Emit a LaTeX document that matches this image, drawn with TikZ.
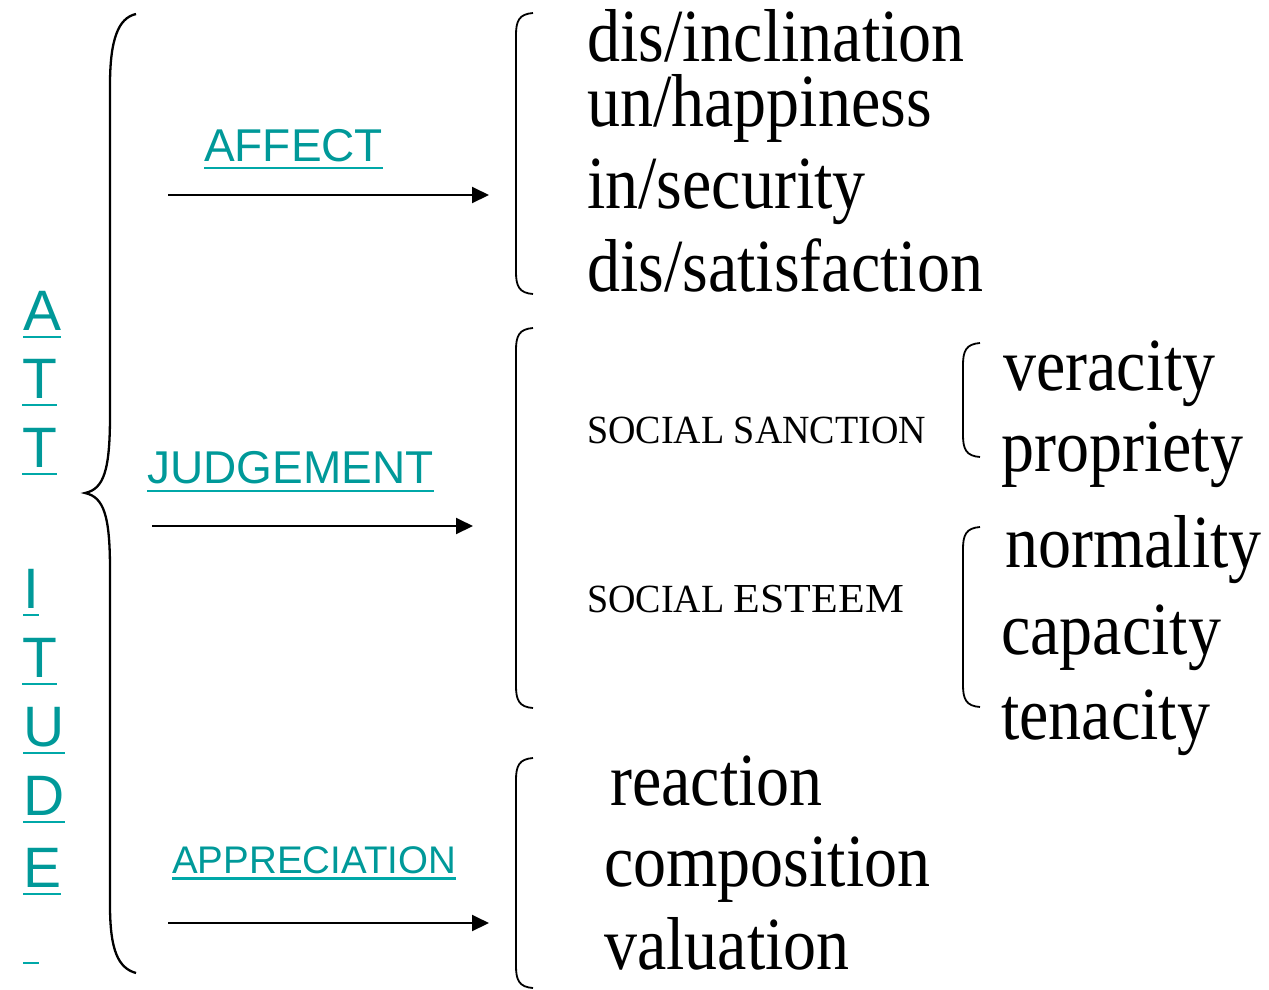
\documentclass[tikz,border=0pt]{standalone}
\usepackage{fontspec}
\usetikzlibrary{arrows.meta,calc}
\newfontfamily\tnr[FakeStretch=0.88]{Liberation Serif}
\newfontfamily\tnrs[FakeStretch=0.95]{Liberation Serif}
\newfontfamily\arial{Liberation Sans}
\definecolor{tealtxt}{RGB}{0,153,153}
\definecolor{tealline}{RGB}{0,168,168}
\tikzset{
  big/.style={anchor=base west,inner sep=0pt,font=\tnr\fontsize{75}{80}\selectfont},
  caps/.style={anchor=base west,inner sep=0pt,font=\tnrs\fontsize{40}{44}\selectfont},
  att/.style={anchor=base west,inner sep=0pt,text=tealtxt,font=\arial\fontsize{57}{60}\selectfont},
  lab/.style={anchor=base west,inner sep=0pt,text=tealtxt,font=\arial\fontsize{46}{50}\selectfont},
  labs/.style={anchor=base west,inner sep=0pt,text=tealtxt,font=\arial\fontsize{38.5}{42}\selectfont},
  uline/.style={draw=tealline,line width=2.4pt},
  brace/.style={draw=black,line width=2.3pt},
  sqbr/.style={draw=black,line width=1.8pt},
  arr/.style={draw=black,line width=2pt,-{Triangle[length=17pt,width=16pt]}}
}
\newcommand\ul[2][7]{\draw[uline] ($(#2.base west)+(0,#1)$) -- ($(#2.base east)+(0,#1)$);}
\newcommand\sqbrack[4]{% x, top, bottom, xend
  \draw[sqbr] (#4,#2) .. controls (#1+3,#2+1) and (#1,#2+8) .. (#1,#2+22)
     -- (#1,#3-22) .. controls (#1,#3-8) and (#1+3,#3-1) .. (#4,#3);}
\begin{document}
\begin{tikzpicture}[x=1pt,y=-1pt]
\useasboundingbox (0,0) rectangle (1269,989);
% ATTITUDE
\node[att] (a1) at (23,330) {A};
\node[att] (a2) at (22,398) {T};
\node[att] (a3) at (22,467) {T};
\node[att] (a4) at (23,608) {I};
\node[att] (a5) at (22,677) {T};
\node[att] (a6) at (23,746) {U};
\node[att] (a7) at (23,815) {D};
\node[att] (a8) at (23,887) {E};
\node[att] (a9) at (23,956) {\phantom{I}};
\foreach \n in {a1,a2,a3,a4,a5,a6,a7,a8,a9} {\ul{\n}}
% big brace
\draw[brace] (136,14) .. controls (118,18) and (110,40) .. (110,85)
  -- (110,415) .. controls (110,470) and (104,489) .. (85,493)
  .. controls (104,497) and (110,516) .. (110,570)
  -- (110,905) .. controls (110,950) and (118,968) .. (136,973);
% labels
\node[lab] (affect) at (204,161) {AFFECT};
\ul{affect}
\node[lab] (judg) at (147,483) {JUDGEMENT};
\ul[8]{judg}
\node[labs] (appr) at (172,873) {APPRECIATION};
\ul[5.5]{appr}
% arrows
\coordinate (afs) at (168,195); \coordinate (afe) at (489,195);
\coordinate (jus) at (152,526); \coordinate (jue) at (473,526);
\coordinate (aps) at (168,923); \coordinate (ape) at (489,923);
\draw[arr] (afs) -- (afe);
\draw[arr] (jus) -- (jue);
\draw[arr] (aps) -- (ape);
% brackets
\sqbrack{516}{13}{294}{533}
\sqbrack{516}{328}{708}{533}
\sqbrack{516}{758}{988}{533}
\sqbrack{963}{343}{457}{980}
\sqbrack{963}{527}{707}{980}
% affect items
\node[big] (t1) at (587,61) {dis/inclination};
\node[big] (t2) at (587,126) {un/happiness};
\node[big] (t3) at (587,208) {in/security};
\node[big] (t4) at (587,291) {dis/satisfaction};
% judgement
\node[caps] (ss) at (587,443) {SOCIAL SANCTION};
\node[caps] (se) at (587,612) {SOCIAL \scalebox{1.15}[1.03]{ESTEEM}};
\node[big] (v1) at (1003,390) {veracity};
\node[big] (v2) at (1001,471) {propriety};
\node[big] (v3) at (1005,567) {normality};
\node[big] (v4) at (1001,654) {capacity};
\node[big] (v5) at (1001,739) {tenacity};
% appreciation
\node[big] (r1) at (610,805) {reaction};
\node[big] (r2) at (604,886) {composition};
\node[big] (r3) at (604,969) {valuation};
\end{tikzpicture}
\end{document}
